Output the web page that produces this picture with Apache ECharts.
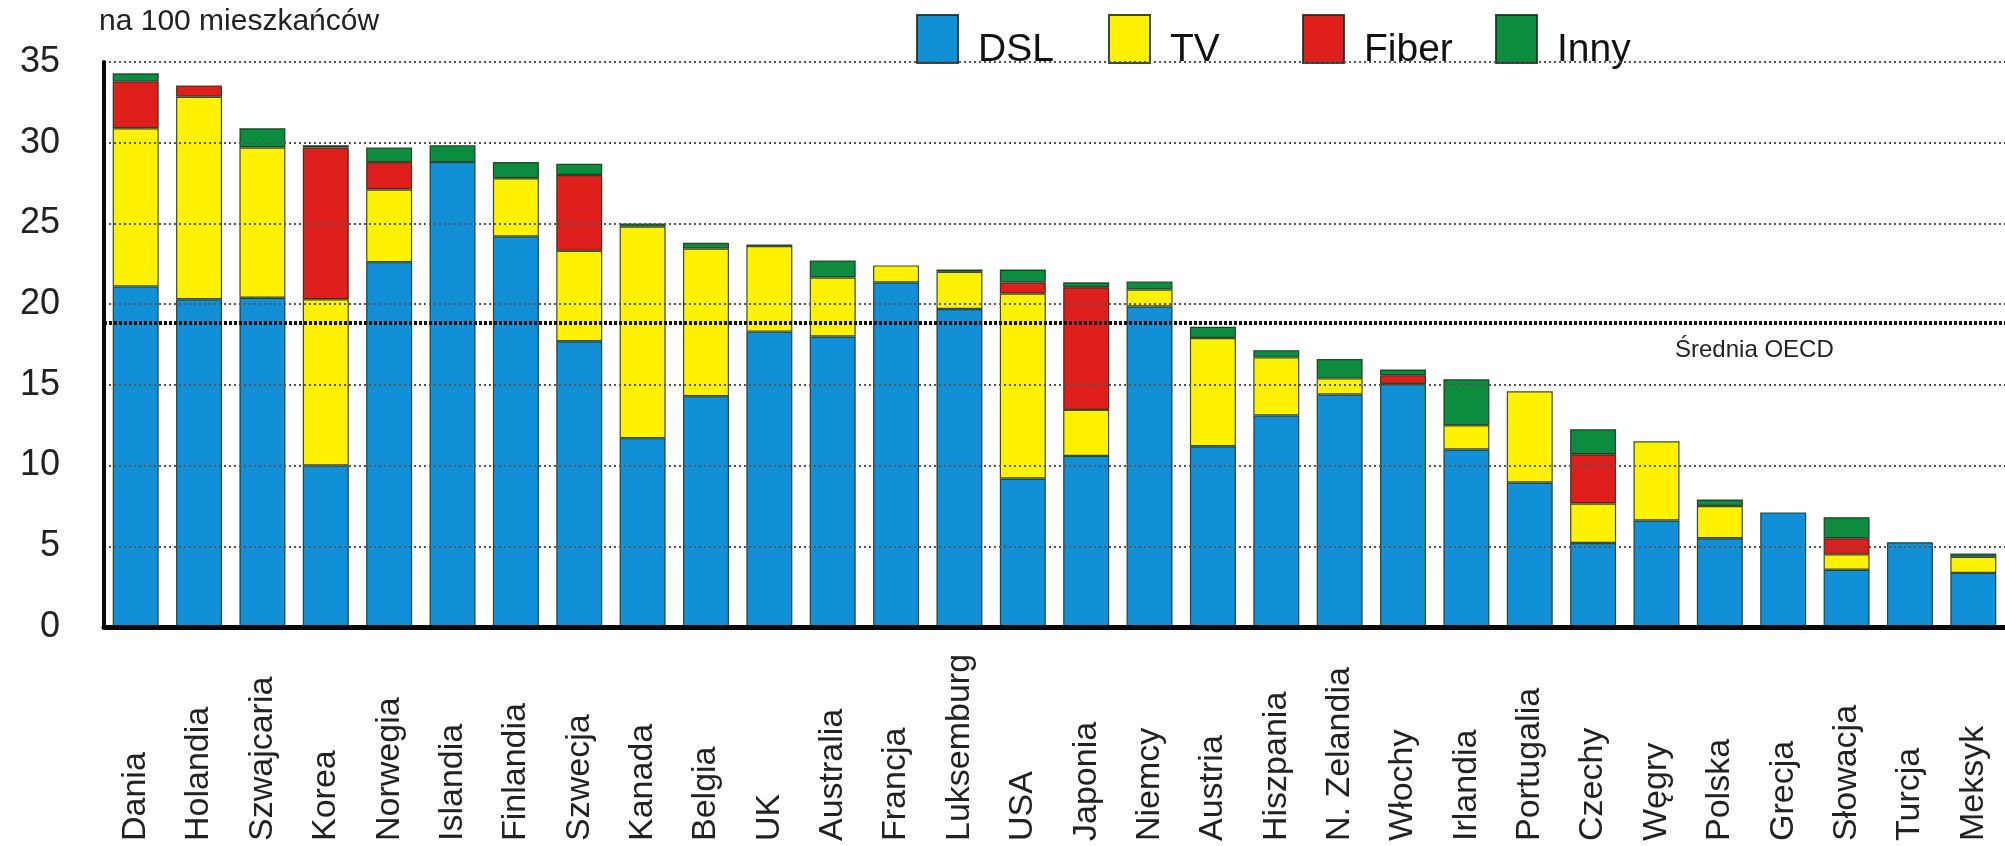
<!DOCTYPE html>
<html>
<head>
<meta charset="utf-8">
<script src="https://cdn.jsdelivr.net/npm/echarts@6/dist/echarts.min.js"></script>
<style>
  html, body { margin: 0; padding: 0; background: #fff; }
  #chart { width: 2005px; height: 846px; }
</style>
</head>
<body>
<div id="chart"></div>
<script>
// Broadband subscribers per 100 inhabitants, by technology
const categories = ['Dania', 'Holandia', 'Szwajcaria', 'Korea', 'Norwegia', 'Islandia', 'Finlandia', 'Szwecja',
  'Kanada', 'Belgia', 'UK', 'Australia', 'Francja', 'Luksemburg', 'USA', 'Japonia', 'Niemcy', 'Austria',
  'Hiszpania', 'N. Zelandia', 'Włochy', 'Irlandia', 'Portugalia', 'Czechy', 'Węgry', 'Polska', 'Grecja',
  'Słowacja', 'Turcja', 'Meksyk'];

const dsl   = [21.1, 20.3, 20.4, 10.0, 22.6, 28.8, 24.2, 17.7, 11.7, 14.3, 18.3, 18.0, 21.35, 19.7, 9.2,
               10.6, 19.85, 11.2, 13.1, 14.4, 15.05, 11.0, 8.95, 5.2, 6.6, 5.5, 7.1, 3.55, 5.25, 3.35];
const tv    = [9.8, 12.55, 9.3, 10.3, 4.5, 0, 3.6, 5.6, 13.1, 9.15, 5.3, 3.65, 1.05, 2.3, 11.45,
               2.85, 1.05, 6.7, 3.6, 1.0, 0, 1.5, 5.65, 2.45, 4.9, 2.0, 0, 0.95, 0, 1.0];
const fiber = [2.9, 0.7, 0, 9.4, 1.7, 0, 0, 4.7, 0, 0, 0, 0, 0, 0, 0.7,
               7.6, 0, 0, 0, 0, 0.55, 0, 0, 3.05, 0, 0, 0, 1.0, 0, 0];
const inny  = [0.5, 0, 1.2, 0.15, 0.9, 1.05, 1.0, 0.7, 0.2, 0.35, 0.1, 1.05, 0, 0.15, 0.8,
               0.3, 0.5, 0.7, 0.45, 1.2, 0.35, 2.85, 0, 1.55, 0, 0.4, 0, 1.3, 0, 0.2];

const seriesNames = ['DSL', 'TV', 'Fiber', 'Inny'];
const oecdAverage = 18.85;
const yTicks = [5, 10, 15, 20, 25, 30, 35];

// styling
const FONT = "'Liberation Sans', Arial, Helvetica, sans-serif";
const colors = ['#1190d8', '#fff200', '#de1f1c', '#0b8c3e'];
const legendLeft = [916, 1108, 1302, 1495];

const seriesData = [dsl, tv, fiber, inny];

const chart = echarts.init(document.getElementById('chart'), null, { renderer: 'canvas' });

const series = seriesNames.map((name, i) => {
  const s = {
    name: name,
    type: 'bar',
    stack: 'total',
    barWidth: 46,
    data: seriesData[i].map(v => (v === 0 ? null : v)),
    itemStyle: {
      color: colors[i],
      borderColor: 'rgba(25,45,25,0.85)',
      borderWidth: 1.2
    },
    emphasis: { disabled: true }
  };
  if (i === seriesNames.length - 1) {
    // dotted grid lines and the OECD average drawn above the bars
    s.markLine = {
      silent: true,
      symbol: ['none', 'none'],
      z: 10,
      label: { show: false },
      data: yTicks.map(t => ({
        yAxis: t,
        lineStyle: { color: '#555', width: 1.8, type: [2, 3] }
      })).concat([{
        yAxis: oecdAverage,
        lineStyle: { color: '#111', width: 4, type: [3, 2] }
      }])
    };
  }
  return s;
});

// one legend per item, each with its own position; text sits on the icon's baseline
const legends = seriesNames.map((name, i) => ({
  data: [name],
  left: legendLeft[i],
  top: 14,
  padding: 0,
  icon: 'rect',
  itemWidth: 41,
  itemHeight: 48,
  selectedMode: false,
  formatter: n => '{t|' + n + '}',
  textStyle: {
    rich: {
      t: {
        fontFamily: FONT,
        fontSize: 39,
        color: '#111',
        padding: [22, 0, 0, 15]
      }
    }
  }
}));

chart.setOption({
  animation: false,
  backgroundColor: '#ffffff',
  title: {
    text: 'na 100 mieszkańców',
    left: 99,
    top: 7,
    padding: 0,
    textStyle: { fontFamily: FONT, fontSize: 30, fontWeight: 'normal', color: '#222' }
  },
  legend: legends,
  grid: { left: 104, top: 62, width: 1907, height: 565, containLabel: false },
  xAxis: {
    type: 'category',
    data: categories,
    axisTick: { show: false },
    axisLine: { show: true, lineStyle: { color: '#0a0a0a', width: 5 } },
    axisLabel: {
      interval: 0,
      rotate: 90,
      align: 'left',
      verticalAlign: 'middle',
      margin: 214,
      fontFamily: FONT,
      fontSize: 34,
      color: '#222'
    },
    z: 12
  },
  yAxis: {
    type: 'value',
    min: 0,
    max: 35,
    interval: 5,
    axisLine: { show: true, lineStyle: { color: '#0a0a0a', width: 4 } },
    axisTick: { show: false },
    splitLine: { show: false },
    axisLabel: {
      margin: 44,
      fontFamily: FONT,
      fontSize: 36,
      color: '#222'
    },
    z: 12
  },
  graphic: [{
    type: 'text',
    left: 1675,
    top: 338,
    style: { text: 'Średnia OECD', font: '24px ' + FONT, fill: '#222' }
  }],
  series: series
});
</script>
</body>
</html>
